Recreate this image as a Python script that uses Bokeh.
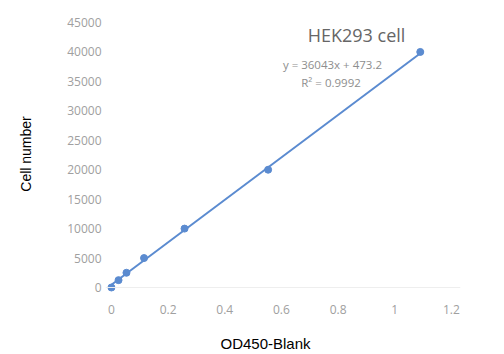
from bokeh.plotting import figure
from bokeh.models import Range1d, Label, FixedTicker, Span, Title
from bokeh.embed import file_html
from bokeh.resources import INLINE

od450 = [0, 0.025, 0.053, 0.115, 0.258, 0.553, 1.09]
cells = [0, 1250, 2500, 5000, 10000, 20000, 40000]
slope = 36043
intercept = 473.2
fit_x = [0, 1.1]
fit_y = [slope * v + intercept for v in fit_x]
x_ticks = [0, 0.2, 0.4, 0.6, 0.8, 1, 1.2]
x_tick_labels = {0: "0", 0.2: "0.2", 0.4: "0.4", 0.6: "0.6", 0.8: "0.8", 1: "1", 1.2: "1.2"}
y_ticks = [0, 5000, 10000, 15000, 20000, 25000, 30000, 35000, 40000, 45000]

p = figure(width=504, height=354, output_backend="svg", toolbar_location=None,
           x_range=Range1d(-0.021, 1.232), y_range=Range1d(-850, 46190),
           min_border_left=105, min_border_right=44, min_border_top=15, min_border_bottom=62)
p.outline_line_color = None
p.grid.visible = False
p.background_fill_color = "white"
p.border_fill_color = "white"

p.add_layout(Span(location=0, dimension="width", line_color="#eeeeee", line_width=1))

p.line(fit_x, fit_y, line_color="#5b8bd0", line_width=2)
p.scatter(od450, cells, size=7, color="#5b8bd0")

for ax in (p.xaxis[0], p.yaxis[0]):
    ax.axis_line_color = None
    ax.major_tick_line_color = None
    ax.minor_tick_line_color = None
    ax.major_label_text_font = "Open Sans"
    ax.major_label_text_font_size = "12px"
    ax.major_label_text_color = "#a0a0a0"
    ax.axis_label_text_font = "Liberation Sans"
    ax.axis_label_text_font_size = "14px"
    ax.axis_label_text_font_style = "normal"
    ax.axis_label_text_color = "#000000"

p.xaxis.ticker = FixedTicker(ticks=x_ticks)
p.xaxis.major_label_overrides = x_tick_labels
p.xaxis.major_label_standoff = 6
p.xaxis.axis_label = "\u00a0"
p.xaxis.axis_label_text_font_size = "1px"
p.xaxis.axis_label_standoff = 12

p.yaxis.ticker = FixedTicker(ticks=y_ticks)
p.yaxis.major_label_standoff = -2
p.yaxis.axis_label = "Cell number"
p.yaxis.axis_label_standoff = 30

p.add_layout(Title(text="OD450-Blank", align="left", offset=115, standoff=0,
                   text_font="Liberation Sans", text_font_size="15px",
                   text_font_style="normal", text_color="#000000"), "below")

p.add_layout(Label(x=0.865, y=42860, text="HEK293 cell", text_font="Open Sans",
                   text_font_size="18px", text_color="#666666", text_align="center",
                   text_baseline="middle"))
p.add_layout(Label(x=0.78, y=37925, text="y = 36043x + 473.2", text_font="Open Sans",
                   text_font_size="11.5px", text_color="#8e8e8e", text_align="center",
                   text_baseline="middle"))
p.add_layout(Label(x=0.775, y=34860, text="R² = 0.9992", text_font="Open Sans",
                   text_font_size="11.5px", text_color="#8e8e8e", text_align="center",
                   text_baseline="middle"))

open("out.html", "w").write(file_html(p, INLINE))
